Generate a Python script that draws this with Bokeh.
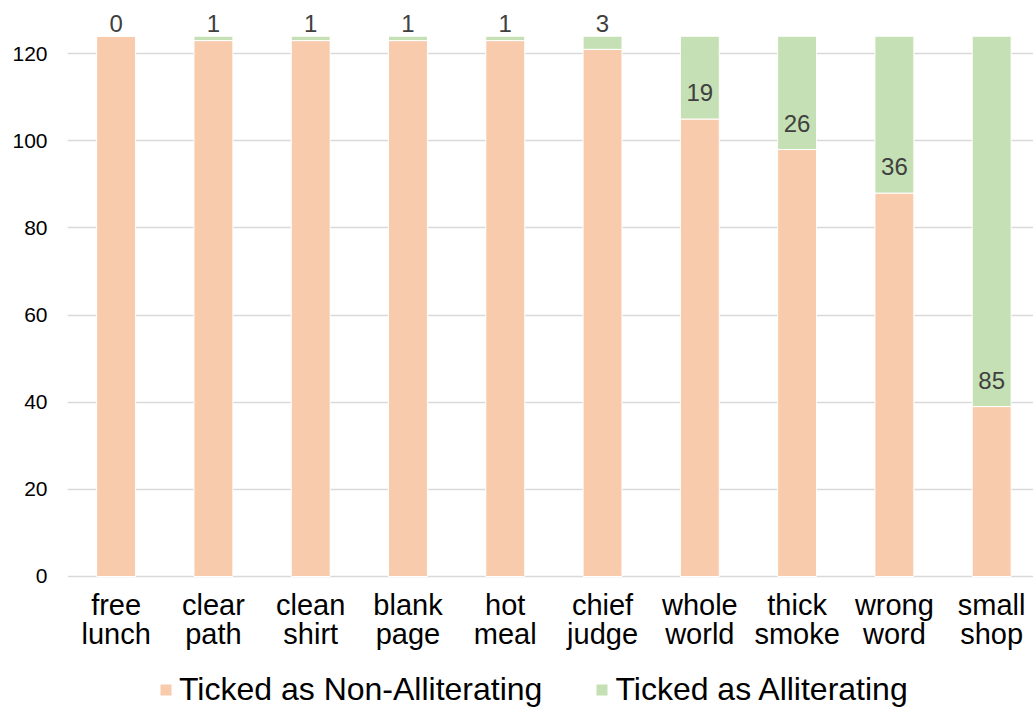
from bokeh.plotting import figure
from bokeh.models import (ColumnDataSource, Legend, LegendItem, FixedTicker,
                          Range1d, LabelSet)
from bokeh.core.properties import value
from bokeh.embed import file_html
from bokeh.resources import INLINE

# Word pairs shown along the x axis
categories = ["free\nlunch", "clear\npath", "clean\nshirt", "blank\npage", "hot\nmeal",
              "chief\njudge", "whole\nworld", "thick\nsmoke", "wrong\nword", "small\nshop"]
# Counts of respondents per pair
non_alliterating = [124, 123, 123, 123, 123, 121, 105, 98, 88, 39]
alliterating = [0, 1, 1, 1, 1, 3, 19, 26, 36, 85]
y_ticks = [0, 20, 40, 60, 80, 100, 120]

ORANGE = "#F8CBAD"
GREEN = "#C5E0B4"
FONT = "Liberation Sans"

xs = list(range(len(categories)))
totals = [a + b for a, b in zip(non_alliterating, alliterating)]

src = ColumnDataSource(dict(x=xs, non=non_alliterating, alli=alliterating))

# The frame covers the whole canvas below the y axis labels; the region
# under zero holds the category labels and the legend.
p = figure(frame_width=966, frame_height=707, output_backend="svg",
           toolbar_location=None,
           x_range=Range1d(-0.5, 9.43), y_range=Range1d(-30.07, 132.2),
           min_border_left=67, min_border_right=0, min_border_top=0,
           min_border_bottom=0)
p.outline_line_color = None
p.background_fill_color = "white"

renderers = p.vbar_stack(["non", "alli"], x="x", width=0.4, source=src,
                         fill_color=[ORANGE, GREEN], line_color="white",
                         line_width=1)

# Value labels: small counts sit above the stack, larger ones inside the
# green segment near its base.
above = [a < 10 for a in alliterating]
lab_src = ColumnDataSource(dict(
    x=xs,
    y=[t if up else n for t, n, up in zip(totals, non_alliterating, above)],
    off=[4 if up else 18 for up in above],
    text=[str(a) for a in alliterating],
))
labels = LabelSet(x="x", y="y", text="text", y_offset="off", source=lab_src,
                  text_align="center", text_baseline="alphabetic",
                  text_font=value(FONT), text_font_size=value("24px"),
                  text_color="#404040")
p.add_layout(labels)

# Category labels under the zero line
cat_src = ColumnDataSource(dict(x=xs, y=[0] * len(xs), text=categories))
p.text(x="x", y="y", text="text", source=cat_src, y_offset=13,
       text_align="center", text_baseline="top",
       text_font=value(FONT), text_font_size=value("29px"),
       text_line_height=0.89, text_color="black")

# Axes
p.xaxis.visible = False

p.yaxis.ticker = FixedTicker(ticks=y_ticks)
p.yaxis.major_label_text_font = FONT
p.yaxis.major_label_text_font_size = "21px"
p.yaxis.major_label_text_color = "black"
p.yaxis.major_label_standoff = 14
p.yaxis.axis_line_color = None
p.yaxis.major_tick_line_color = None
p.yaxis.minor_tick_line_color = None

p.xgrid.grid_line_color = None
p.ygrid.grid_line_color = "#D9D9D9"
p.ygrid.grid_line_width = 1.5

# Horizontal legend placed under the category labels
legend = Legend(items=[
    LegendItem(label="Ticked as Non-Alliterating", renderers=[renderers[0]]),
    LegendItem(label="Ticked as Alliterating", renderers=[renderers[1]]),
], orientation="horizontal", location=(91, -1))
legend.border_line_color = None
legend.background_fill_alpha = 0
legend.label_text_font = FONT
legend.label_text_font_size = "32px"
legend.label_text_color = "black"
legend.glyph_width = 15
legend.glyph_height = 15
legend.label_standoff = 6
legend.spacing = 52
legend.padding = 0
legend.margin = 0
p.add_layout(legend)

open("out.html", "w").write(file_html(p, INLINE))
